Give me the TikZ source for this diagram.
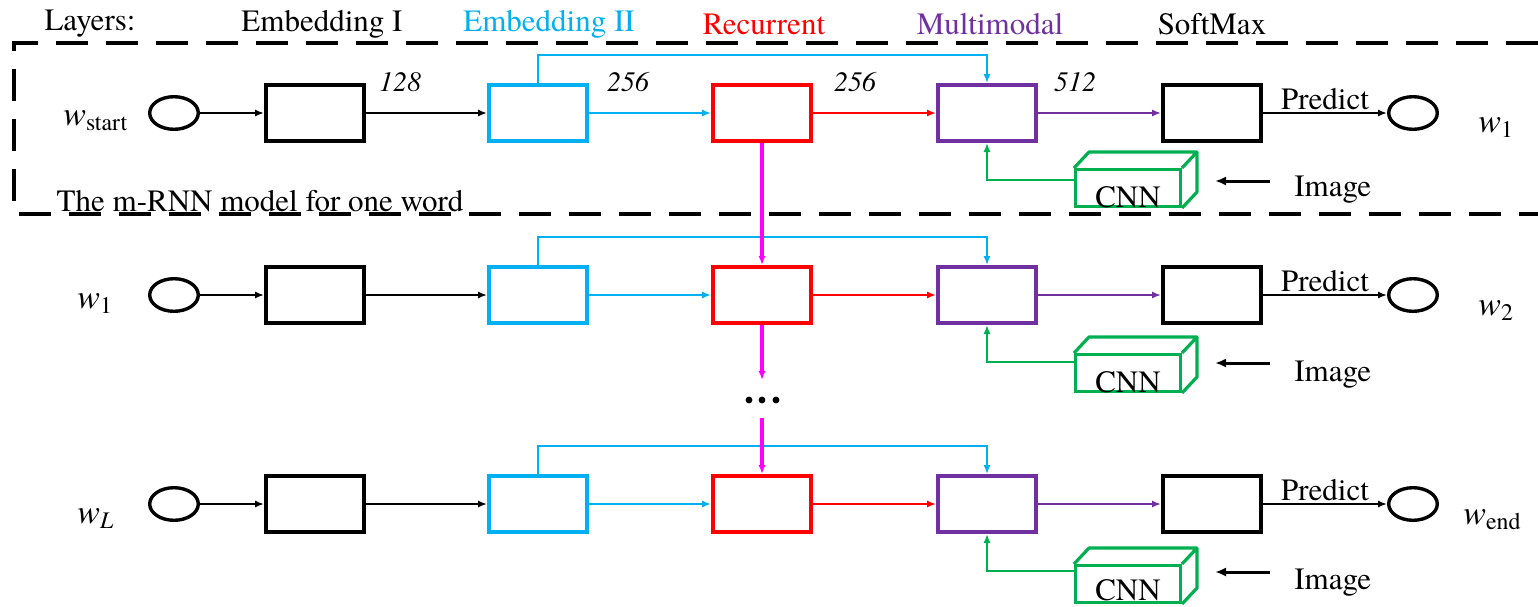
\documentclass[tikz,border=0pt]{standalone}
\usepackage{fontspec}
\setmainfont{texgyretermes}[Extension=.otf, UprightFont=*-regular, ItalicFont=*-italic, BoldFont=*-bold, BoldItalicFont=*-bolditalic]
\usetikzlibrary{arrows.meta,shapes.geometric,calc}
\definecolor{ecyan}{RGB}{0,176,240}
\definecolor{rred}{RGB}{255,0,0}
\definecolor{mpurple}{RGB}{112,48,160}
\definecolor{cgreen}{RGB}{0,176,80}
\definecolor{mmag}{RGB}{255,0,255}
\tikzset{
  lbl/.style={font=\fontsize{15.5}{18}\selectfont, inner sep=0pt},
  wlbl/.style={font=\fontsize{17}{19}\selectfont, inner sep=0pt},
  num/.style={font=\fontsize{14}{16}\selectfont\itshape, inner sep=0pt},
  blk/.style={draw, line width=2pt, minimum width=49pt, minimum height=28pt, inner sep=0pt},
  wordc/.style={draw, ellipse, line width=1.7pt, minimum width=24.3pt, minimum height=16.3pt, inner sep=0pt},
  conn/.style={line width=1.2pt, -{Latex[length=4.5pt,width=3.6pt]}},
  cnnbox/.style={draw=cgreen, line width=1.6pt, minimum width=52.4pt, minimum height=18.4pt, inner sep=0pt},
  dashbox/.style={line width=2pt, dash pattern=on 16pt off 9pt}
}
\begin{document}
\begin{tikzpicture}[x=0.5pt,y=-0.5pt]
\useasboundingbox (0,0) rectangle (1538,606);

% layer titles
\node[lbl] (tl) at (90,24) {Layers:};
\node[lbl] (t1) at (322,24) {Embedding I};
\node[lbl, text=ecyan] (t2) at (549,24) {Embedding II};
\node[lbl, text=rred] (t3) at (764,24) {Recurrent};
\node[lbl, text=mpurple] (t4) at (990,24) {Multimodal};
\node[lbl] (t5) at (1212,24) {SoftMax};

% dashed frame
\draw[dashbox] (1538,43) -- (14,43) -- (14,214) -- (1538,214);
\node[lbl] (cap) at (260,201) {The m-RNN model for one word};

\foreach \i/\y/\wl/\wlx/\wly/\wr/\wrx/\wry/\co/\ct/\ib in
   {1/113/{\textit{w}\textsubscript{start}}/63/12/{\textit{w}\textsubscript{1}}/1478/19/75/94/83,
    2/295/{\textit{w}\textsubscript{1}}/77/13/{\textit{w}\textsubscript{2}}/1478/20/78/97/86,
    3/504/{\textit{w}\textsubscript{\textit{L}}}/77/19/{\textit{w}\textsubscript{end}}/1463/20/80/96/85}{
  \node[wordc] (c\i) at (174,\y) {};
  \node[blk] (f\i) at (315,\y) {};
  \node[blk, draw=ecyan] (e\i) at (538,\y) {};
  \node[blk, draw=rred] (r\i) at (762,\y) {};
  \node[blk, draw=mpurple] (m\i) at (987,\y) {};
  \node[blk] (s\i) at (1212,\y) {};
  \node[wordc] (o\i) at (1413,\y) {};
  \node[wlbl, anchor=base west] (wl\i) at (\wlx,\y+\wly) {\wl};
  \node[wlbl, anchor=base west] (wr\i) at (\wrx,\y+\wry) {\wr};
  % connectors
  \draw[conn] (c\i) -- (f\i);
  \draw[conn] (f\i) -- (e\i);
  \draw[conn, ecyan] (e\i) -- (r\i);
  \draw[conn, rred] (r\i) -- (m\i);
  \draw[conn, mpurple] (m\i) -- (s\i);
  \draw[conn] (s\i) -- node[midway, above, lbl, inner sep=1pt] (p\i) {Predict} (o\i);
  \draw[conn, ecyan] (e\i.north) -- ++(0,-28) -| (m\i.north);
  % CNN
  \node[cnnbox] (cnn\i) at (1128,\y+\co) {};
  \draw[cgreen, line width=1.6pt, line join=round]
     (cnn\i.north west) -- ([shift={(15,-16)}]cnn\i.north west) -- ([shift={(15,-16)}]cnn\i.north east)
     -- ([shift={(15,-16)}]cnn\i.south east) -- (cnn\i.south east)
     (cnn\i.north east) -- ([shift={(15,-16)}]cnn\i.north east);
  \node[lbl, anchor=base] (cnnt\i) at (1128,\y+\ct) {CNN};
  \coordinate (gl\i) at (0,\y+67);
  \draw[conn, cgreen] (cnn\i.west |- gl\i) -| (m\i.south);
  \node[lbl, anchor=base west] (img\i) at (1294,\y+\ib) {Image};
  \coordinate (ias\i) at (1270,\y+68);
  \coordinate (iae\i) at (1215,\y+68);
  \draw[line width=1.5pt, -{Latex[length=5.5pt,width=4.5pt]}] (ias\i) -- (iae\i);
}

\node[num] (n1) at (400,82) {128};
\node[num] (n2) at (628,82) {256};
\node[num] (n3) at (855,82) {256};
\node[num] (n4) at (1075,82) {512};

% recurrent links
\coordinate (d1) at (762,380);
\coordinate (d2) at (762,418);
\draw[conn, mmag, line width=1.6pt] (r1.south) -- (r2.north);
\draw[conn, mmag, line width=1.6pt] (r2.south) -- (d1);
\draw[conn, mmag, line width=1.6pt] (d2) -- (r3.north);
\fill (749,400) circle (1.7pt) (762,400) circle (1.7pt) (776,400) circle (1.7pt);
\end{tikzpicture}
\end{document}
